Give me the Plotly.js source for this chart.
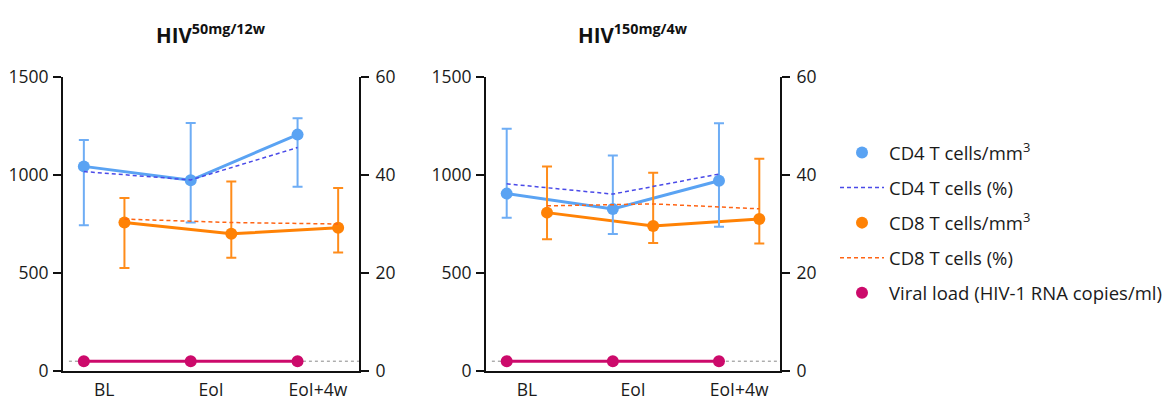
<!DOCTYPE html>
<html>
<head>
<meta charset="utf-8">
<script src="https://cdn.plot.ly/plotly-3.0.1.min.js"></script>
<style>html,body{margin:0;padding:0;background:#fff;}#chart{width:1168px;height:398px;}</style>
</head>
<body>
<div id="chart"></div>
<script>
// ---- data ----
const categories = ['BL', 'EoI', 'EoI+4w'];
const panelTitles = ['HIV<sup>50mg/12w</sup>', 'HIV<sup>150mg/4w</sup>'];

// panel 1: HIV 50mg/12w
const cd4_50 = [1044, 973, 1206];
const cd4_50_hi = [1179, 1265, 1289];
const cd4_50_lo = [743, 758, 940];
const cd8_50 = [758, 700, 731];
const cd8_50_hi = [883, 967, 934];
const cd8_50_lo = [526, 578, 605];
const cd4pct_50 = [40.7, 39.0, 45.6];
const cd8pct_50 = [31.0, 30.3, 30.0];
const vl_50 = [50, 50, 50];

// panel 2: HIV 150mg/4w
const cd4_150 = [905, 827, 971];
const cd4_150_hi = [1236, 1099, 1264];
const cd4_150_lo = [782, 699, 736];
const cd8_150 = [808, 740, 776];
const cd8_150_hi = [1044, 1012, 1083];
const cd8_150_lo = [672, 653, 650];
const cd4pct_150 = [38.2, 36.1, 40.2];
const cd8pct_150 = [33.7, 34.1, 33.1];
const vl_150 = [50, 50, 50];

const detectionLimit = 50;

// ---- styling ----
const BLUE = '#5AA3F3', BLUE_ERR = '#6EADF5', BLUE_DASH = '#4A4AE8';
const ORANGE = '#FF8205', ORANGE_ERR = '#FF8C1A', ORANGE_DASH = '#FF6414';
const MAGENTA = '#CC0A6B';
const FONT = 'Open Sans, Liberation Sans, sans-serif';
const DASH = '4px,3px';

function diff(a, b) { return a.map((v, i) => v - b[i]); }

function panel(xa, ya, ya2, d, ag) {
  const base = {x: categories, xaxis: xa, alignmentgroup: ag, cliponaxis: false};
  return {
    cd4: Object.assign({}, base, {yaxis: ya, y: d.cd4, mode: 'lines', offsetgroup: 'a',
      line: {color: BLUE, width: 3}, showlegend: false, hoverinfo: 'skip'}),
    cd8: Object.assign({}, base, {yaxis: ya, y: d.cd8, mode: 'lines', offsetgroup: 'b',
      line: {color: ORANGE, width: 3}, showlegend: false, hoverinfo: 'skip'}),
    cd4pct: Object.assign({}, base, {yaxis: ya2, y: d.cd4pct, mode: 'lines', offsetgroup: 'a',
      line: {color: BLUE_DASH, width: 1.5, dash: DASH}, showlegend: false, name: 'CD4 T cells (%)'}),
    cd8pct: Object.assign({}, base, {yaxis: ya2, y: d.cd8pct, mode: 'lines', offsetgroup: 'b',
      line: {color: ORANGE_DASH, width: 1.5, dash: DASH}, showlegend: false, name: 'CD8 T cells (%)'}),
    vl: Object.assign({}, base, {yaxis: ya, y: d.vl, mode: 'lines', offsetgroup: 'a',
      line: {color: MAGENTA, width: 3}, showlegend: false, hoverinfo: 'skip'})
  };
}

function markers(xa, ya, d, showLegend, ag) {
  const base = {x: categories, xaxis: xa, yaxis: ya, alignmentgroup: ag, mode: 'markers', cliponaxis: false};
  return {
    cd4: Object.assign({}, base, {y: d.cd4, offsetgroup: 'a', name: 'CD4 T cells/mm<sup>3</sup>',
      marker: {color: BLUE, size: 12}, legendgroup: 'g1', showlegend: showLegend,
      error_y: {type: 'data', symmetric: false, array: diff(d.cd4hi, d.cd4), arrayminus: diff(d.cd4, d.cd4lo),
        color: BLUE_ERR, thickness: 2, width: 5}}),
    cd8: Object.assign({}, base, {y: d.cd8, offsetgroup: 'b', name: 'CD8 T cells/mm<sup>3</sup>',
      marker: {color: ORANGE, size: 12}, legendgroup: 'g3', showlegend: showLegend,
      error_y: {type: 'data', symmetric: false, array: diff(d.cd8hi, d.cd8), arrayminus: diff(d.cd8, d.cd8lo),
        color: ORANGE_ERR, thickness: 2, width: 5}}),
    vl: Object.assign({}, base, {y: d.vl, offsetgroup: 'a', name: 'Viral load (HIV-1 RNA copies/ml)',
      marker: {color: MAGENTA, size: 12}, legendgroup: 'g5', showlegend: showLegend})
  };
}

const d1 = {cd4: cd4_50, cd4hi: cd4_50_hi, cd4lo: cd4_50_lo, cd8: cd8_50, cd8hi: cd8_50_hi, cd8lo: cd8_50_lo,
  cd4pct: cd4pct_50, cd8pct: cd8pct_50, vl: vl_50};
const d2 = {cd4: cd4_150, cd4hi: cd4_150_hi, cd4lo: cd4_150_lo, cd8: cd8_150, cd8hi: cd8_150_hi, cd8lo: cd8_150_lo,
  cd4pct: cd4pct_150, cd8pct: cd8pct_150, vl: vl_150};

const l1 = panel('x', 'y', 'y2', d1, 'p1');
const l2 = panel('x2', 'y3', 'y4', d2, 'p2');
const m1 = markers('x', 'y', d1, true, 'p1');
const m2 = markers('x2', 'y3', d2, false, 'p2');

const pct4legend = Object.assign({}, l1.cd4pct, {showlegend: true, legendgroup: 'g2'});
const pct8legend = Object.assign({}, l1.cd8pct, {showlegend: true, legendgroup: 'g4'});

// blue ('a') group traces come first so they take the left offset slot
const traces = [
  l1.cd4, l1.cd8, l1.vl,
  l2.cd4, l2.cd8, l2.vl, l2.cd4pct, l2.cd8pct,
  m1.cd4, pct4legend, m1.cd8, pct8legend, m1.vl,
  m2.cd4, m2.cd8, m2.vl
];

const W = 1168, H = 398;
const yDom = [(H - 371) / H, (H - 77) / H];
const xDom1 = [63 / W, 359 / W];
const xDom2 = [486 / W, 780 / W];

const tickFont = {family: FONT, size: 17.5, color: '#1a1a1a'};
function xAxis(dom, yAnchor) {
  return {domain: dom, anchor: yAnchor, type: 'category', range: [-0.385, 2.385],
    showline: true, linecolor: '#111', linewidth: 2, ticks: '', showgrid: false, zeroline: false,
    tickfont: tickFont, ticklabelstandoff: 2, fixedrange: true};
}
function yLeft(xAnchor) {
  return {domain: yDom, anchor: xAnchor, range: [0, 1500], tickvals: [0, 500, 1000, 1500],
    showline: true, linecolor: '#111', linewidth: 2, ticks: 'outside', ticklen: 8, tickwidth: 2, tickcolor: '#111',
    showgrid: false, zeroline: false, tickfont: tickFont, ticklabelstandoff: 1};
}
function yRight(xAnchor, over) {
  return {domain: yDom, anchor: xAnchor, overlaying: over, side: 'right', range: [0, 60], tickvals: [0, 20, 40, 60],
    showline: true, linecolor: '#111', linewidth: 2, ticks: 'outside', ticklen: 8, tickwidth: 2, tickcolor: '#111',
    showgrid: false, zeroline: false, tickfont: tickFont, ticklabelstandoff: 3};
}

const layout = {
  width: W, height: H,
  margin: {l: 0, r: 0, t: 0, b: 0},
  paper_bgcolor: '#fff', plot_bgcolor: 'rgba(0,0,0,0)',
  font: {family: FONT, size: 17.5, color: '#1a1a1a'},
  scattermode: 'group', scattergap: 0.24,
  xaxis: xAxis(xDom1, 'y'),
  yaxis: yLeft('x'),
  yaxis2: yRight('x', 'y'),
  xaxis2: xAxis(xDom2, 'y3'),
  yaxis3: yLeft('x2'),
  yaxis4: yRight('x2', 'y3'),
  showlegend: true,
  legend: {x: 835 / W, xanchor: 'left', y: 1 - 134 / H, yanchor: 'top', traceorder: 'grouped',
    tracegroupgap: 8, itemwidth: 44, font: {family: FONT, size: 18.5, color: '#1a1a1a'}, bgcolor: 'rgba(0,0,0,0)'},
  shapes: [
    {type: 'line', xref: 'x domain', yref: 'y', x0: 0.02, x1: 1, y0: detectionLimit, y1: detectionLimit,
      line: {color: '#888', width: 1, dash: 'dot'}, layer: 'below'},
    {type: 'line', xref: 'x2 domain', yref: 'y3', x0: 0.02, x1: 1, y0: detectionLimit, y1: detectionLimit,
      line: {color: '#888', width: 1, dash: 'dot'}, layer: 'below'}
  ],
  annotations: [
    {text: '<b>' + panelTitles[0] + '</b>', xref: 'paper', yref: 'paper', x: (xDom1[0] + xDom1[1]) / 2,
      y: 1 - 34 / H, xanchor: 'center', yanchor: 'middle', showarrow: false,
      font: {family: FONT, size: 20.5, color: '#111'}},
    {text: '<b>' + panelTitles[1] + '</b>', xref: 'paper', yref: 'paper', x: (xDom2[0] + xDom2[1]) / 2,
      y: 1 - 34 / H, xanchor: 'center', yanchor: 'middle', showarrow: false,
      font: {family: FONT, size: 20.5, color: '#111'}}
  ]
};

Plotly.newPlot('chart', traces, layout, {displayModeBar: false, staticPlot: true});
</script>
</body>
</html>
